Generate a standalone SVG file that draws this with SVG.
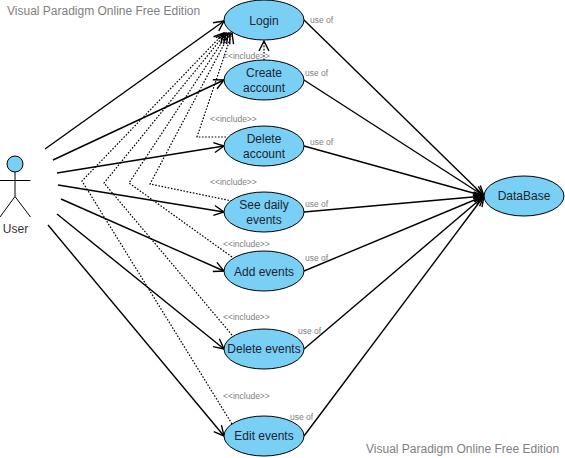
<svg xmlns="http://www.w3.org/2000/svg" width="565" height="458" viewBox="0 0 565 458">
<defs>
<marker id="open" markerUnits="userSpaceOnUse" markerWidth="16" markerHeight="16" viewBox="-14 -8 16 16" refX="0" refY="0" orient="auto"><path d="M-10 -5L0 0L-10 5" fill="none" stroke="#000" stroke-width="1.4"/></marker>
</defs>
<style>
text{font-family:"Liberation Sans",Arial,sans-serif}
.uc{fill:#7ACFF5;stroke:#000;stroke-width:1}
.t{font-size:12px;fill:#1a2530;text-anchor:middle}
.s{font-size:8.5px;fill:#808080}
.wm{font-size:12px;fill:#808080}
.a{fill:none;stroke:#000;stroke-width:1.4;marker-end:url(#open)}
.p{fill:none;stroke:#000;stroke-width:1}
.d{fill:none;stroke:#000;stroke-width:1.2;stroke-dasharray:1.6 1.6;marker-end:url(#open)}
</style>
<rect width="565" height="458" fill="#fff"/>
<g id="connectors">
<path class="a" d="M45 149L224 21"/>
<path class="a" d="M53 160L224 80"/>
<path class="a" d="M57 173L224 146"/>
<path class="a" d="M58 185L224 212"/>
<path class="a" d="M61 199L224 271"/>
<path class="a" d="M57 214L224 349"/>
<path class="a" d="M48 225L224 436"/>
<path class="a" d="M304 20L484 196"/>
<path class="a" d="M304 80L484 196"/>
<path class="a" d="M304 146L484 196"/>
<path class="a" d="M304 212L484 196"/>
<path class="a" d="M304 271L484 196"/>
<path class="a" d="M304 349L484 196"/>
<path class="a" d="M304 436L484 196"/>
<path class="d" d="M264 60L264 41"/>
<path class="d" d="M226 137L197 137L232 33"/>
<path class="d" d="M232 201L150 184L230 33"/>
<path class="d" d="M232 257L129 183L228 33"/>
<path class="d" d="M232 335L104 183L226 33"/>
<path class="d" d="M232 424L82 181L224 33"/>
</g>
<g id="actor-user">
<circle class="uc" cx="15" cy="164" r="8"/>
<path class="p" d="M15 172V196.500M0 180.500H30.500M15 196.500L0 217M15 196.500L30.500 217"/>
<text x="15.500" y="233" class="t" style="fill:#333">User</text>
</g>
<g id="uc-login"><ellipse class="uc" cx="264" cy="20" rx="40" ry="20"/><text x="264" y="24.500" class="t">Login</text></g>
<g id="uc-create"><ellipse class="uc" cx="264" cy="80" rx="40" ry="20"/><text x="264" y="77" class="t">Create</text><text x="264" y="92" class="t">account</text></g>
<g id="uc-delete"><ellipse class="uc" cx="264" cy="146" rx="40" ry="20"/><text x="264" y="143" class="t">Delete</text><text x="264" y="158" class="t">account</text></g>
<g id="uc-see"><ellipse class="uc" cx="264" cy="212" rx="40" ry="20"/><text x="264" y="209" class="t">See daily</text><text x="264" y="224" class="t">events</text></g>
<g id="uc-add"><ellipse class="uc" cx="264" cy="271" rx="40" ry="20"/><text x="264" y="275.500" class="t">Add events</text></g>
<g id="uc-delev"><ellipse class="uc" cx="264" cy="349" rx="40" ry="20"/><text x="264" y="353" class="t">Delete events</text></g>
<g id="uc-edit"><ellipse class="uc" cx="264" cy="436" rx="40" ry="20"/><text x="264" y="440" class="t">Edit events</text></g>
<g id="uc-db"><ellipse class="uc" cx="524" cy="196" rx="40" ry="20"/><text x="524" y="200" class="t">DataBase</text></g>
<g id="labels">
<text x="223" y="59" class="s">&lt;&lt;include&gt;&gt;</text>
<text x="210" y="122" class="s">&lt;&lt;include&gt;&gt;</text>
<text x="210" y="185" class="s">&lt;&lt;include&gt;&gt;</text>
<text x="223" y="247" class="s">&lt;&lt;include&gt;&gt;</text>
<text x="223" y="320" class="s">&lt;&lt;include&gt;&gt;</text>
<text x="223" y="399" class="s">&lt;&lt;include&gt;&gt;</text>
<text x="310" y="23" class="s">use of</text>
<text x="305" y="76" class="s">use of</text>
<text x="310" y="145" class="s">use of</text>
<text x="305" y="207" class="s">use of</text>
<text x="305" y="261" class="s">use of</text>
<text x="298" y="334" class="s">use of</text>
<text x="290" y="420" class="s">use of</text>
<text x="7" y="15" class="wm">Visual Paradigm Online Free Edition</text>
<text x="366" y="453" class="wm">Visual Paradigm Online Free Edition</text>
</g>
</svg>
